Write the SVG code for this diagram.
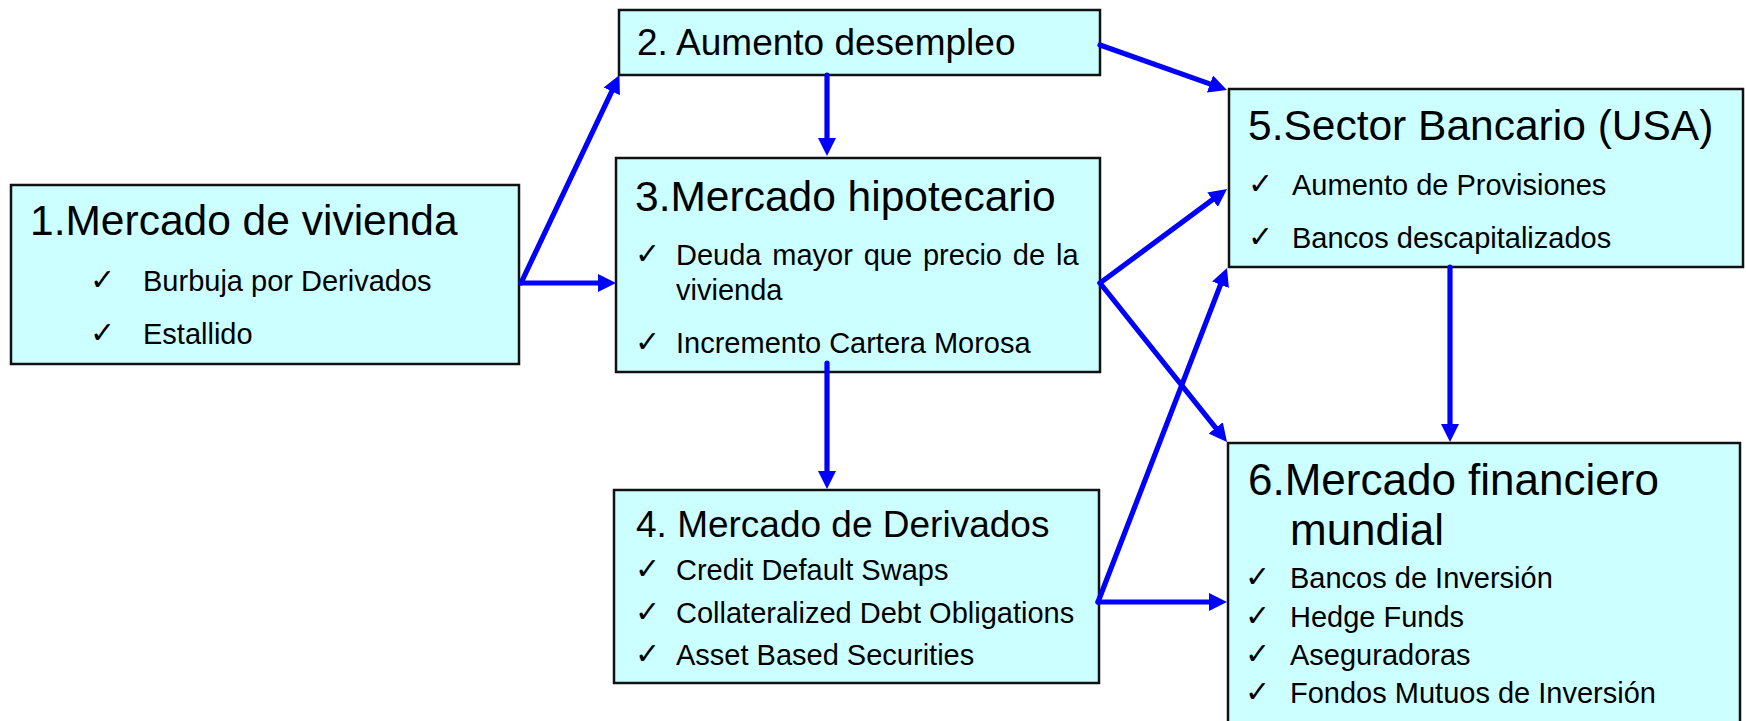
<svg xmlns="http://www.w3.org/2000/svg" width="1746" height="721" viewBox="0 0 1746 721">
<defs>
<style>
.box{fill:#CCFFFF;stroke:#111;stroke-width:2.5}
.t{font-family:"Liberation Sans",Arial,sans-serif;fill:#000}
.tl{font-size:42.5px}
.tx{font-size:44px}
.tm{font-size:37px}
.it{font-size:29px}
.ck{font-family:"DejaVu Sans",sans-serif;font-size:30px;fill:#000}
.c line{stroke:#0000FF;stroke-width:5.2;stroke-linecap:round;marker-end:url(#ah)}
</style>
<marker id="ah" markerUnits="userSpaceOnUse" markerWidth="18" markerHeight="18" refX="5" refY="9" orient="auto" viewBox="0 0 18 18">
<path d="M0,0 L18,9 L0,18 z" fill="#0000FF"/>
</marker>
</defs>
<rect width="1746" height="721" fill="#FFFFFF"/>

<g id="n1">
<rect class="box" x="11" y="185" width="508" height="179"/>
<text class="t tl" x="30" y="235">1.Mercado de vivienda</text>
<text class="ck" x="90" y="290">✓</text>
<text class="t it" x="143" y="291">Burbuja por Derivados</text>
<text class="ck" x="90" y="343">✓</text>
<text class="t it" x="143" y="344">Estallido</text>
</g>

<g id="n2">
<rect class="box" x="619" y="10" width="481" height="65"/>
<text class="t tm" x="637" y="55">2. Aumento desempleo</text>
</g>

<g id="n3">
<rect class="box" x="616" y="158" width="484" height="214"/>
<text class="t tl" x="635" y="211">3.Mercado hipotecario</text>
<text class="ck" x="635" y="264">✓</text>
<text class="t it" x="676" y="265" word-spacing="2.8">Deuda mayor que precio de la</text>
<text class="t it" x="676" y="300">vivienda</text>
<text class="ck" x="635" y="352">✓</text>
<text class="t it" x="676" y="353">Incremento Cartera Morosa</text>
</g>

<g id="n4">
<rect class="box" x="614" y="490" width="485" height="193"/>
<text class="t tm" x="636" y="537">4. Mercado de Derivados</text>
<text class="ck" x="635" y="579">✓</text>
<text class="t it" x="676" y="580">Credit Default Swaps</text>
<text class="ck" x="635" y="622">✓</text>
<text class="t it" x="676" y="623">Collateralized Debt Obligations</text>
<text class="ck" x="635" y="664">✓</text>
<text class="t it" x="676" y="665">Asset Based Securities</text>
</g>

<g id="n5">
<rect class="box" x="1229" y="89" width="514" height="178"/>
<text class="t tl" x="1248" y="140">5.Sector Bancario (USA)</text>
<text class="ck" x="1248" y="194">✓</text>
<text class="t it" x="1292" y="195">Aumento de Provisiones</text>
<text class="ck" x="1248" y="247">✓</text>
<text class="t it" x="1292" y="248">Bancos descapitalizados</text>
</g>

<g id="n6">
<rect class="box" x="1228" y="443" width="512" height="290"/>
<text class="t tx" x="1248" y="495">6.Mercado financiero</text>
<text class="t tx" x="1290" y="545">mundial</text>
<text class="ck" x="1245" y="587">✓</text>
<text class="t it" x="1290" y="588">Bancos de Inversión</text>
<text class="ck" x="1245" y="626">✓</text>
<text class="t it" x="1290" y="627">Hedge Funds</text>
<text class="ck" x="1245" y="664">✓</text>
<text class="t it" x="1290" y="665">Aseguradoras</text>
<text class="ck" x="1245" y="702">✓</text>
<text class="t it" x="1290" y="703">Fondos Mutuos de Inversión</text>
</g>

<g id="connectors" class="c">
<line x1="521" y1="283" x2="613.9" y2="86.8"/>
<line x1="521" y1="283" x2="603" y2="283"/>
<line x1="827" y1="75" x2="827" y2="143"/>
<line x1="827" y1="363" x2="827" y2="476"/>
<line x1="1100" y1="45" x2="1214.7" y2="85.6"/>
<line x1="1100" y1="283" x2="1216.6" y2="196.7"/>
<line x1="1100" y1="283" x2="1218.9" y2="431.8"/>
<line x1="1098" y1="602" x2="1222.3" y2="280.1"/>
<line x1="1098" y1="602" x2="1214" y2="602"/>
<line x1="1450" y1="267" x2="1450" y2="429"/>
</g>
</svg>
